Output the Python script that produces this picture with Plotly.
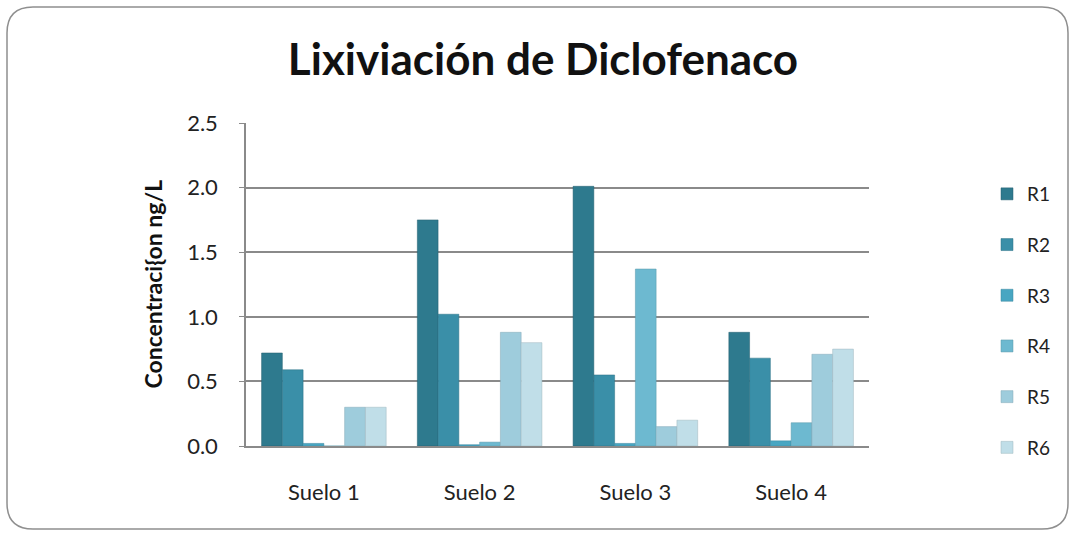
import plotly.graph_objects as go

categories = ["Suelo 1", "Suelo 2", "Suelo 3", "Suelo 4"]
series_names = ["R1", "R2", "R3", "R4", "R5", "R6"]
R1 = [0.72, 1.75, 2.01, 0.88]
R2 = [0.59, 1.02, 0.55, 0.68]
R3 = [0.02, 0.01, 0.02, 0.04]
R4 = [0.00, 0.03, 1.37, 0.18]
R5 = [0.30, 0.88, 0.15, 0.71]
R6 = [0.30, 0.80, 0.20, 0.75]
series_values = [R1, R2, R3, R4, R5, R6]
y_ticks = [0.0, 0.5, 1.0, 1.5, 2.0, 2.5]
y_ticklabels = ["0.0", "0.5", "1.0", "1.5", "2.0", "2.5"]

colors = ["#2E7A8E", "#3A8FA8", "#48A6C2", "#6DB9D0", "#9ECCDC", "#C0DEE8"]
line_colors = ["#245F6F", "#2D7085", "#3A869E", "#5A98AB", "#84A9B6", "#9FB6BE"]

W, H = 1073, 533
L, R, T, B = 246, 869, 123, 446
FONT = "Lato"

fig = go.Figure()
for i, (name, vals) in enumerate(zip(series_names, series_values)):
    fig.add_trace(go.Bar(
        x=categories, y=vals, name=name,
        marker=dict(color=colors[i], line=dict(color=line_colors[i], width=0.5)),
        legendgroup=name,
    ))

def px_x(p):
    return (p - L) / (R - L)

def px_y(p):
    return (B - p) / (B - T)

# rounded frame around the chart
x0, y0, x1, y1, r = 7, 7, 1068, 529, 26
path = (
    f"M {px_x(x0 + r)},{px_y(y0)} L {px_x(x1 - r)},{px_y(y0)} "
    f"Q {px_x(x1)},{px_y(y0)} {px_x(x1)},{px_y(y0 + r)} "
    f"L {px_x(x1)},{px_y(y1 - r)} Q {px_x(x1)},{px_y(y1)} {px_x(x1 - r)},{px_y(y1)} "
    f"L {px_x(x0 + r)},{px_y(y1)} Q {px_x(x0)},{px_y(y1)} {px_x(x0)},{px_y(y1 - r)} "
    f"L {px_x(x0)},{px_y(y0 + r)} Q {px_x(x0)},{px_y(y0)} {px_x(x0 + r)},{px_y(y0)} Z"
)

fig.update_layout(
    width=W, height=H,
    margin=dict(l=L, r=W - R, t=T, b=H - B, autoexpand=False),
    paper_bgcolor="white", plot_bgcolor="white",
    barmode="group", bargap=0.2, bargroupgap=0,
    font=dict(family=FONT, size=22, color="#222"),
    title=dict(text="<b>Lixiviación de Diclofenaco</b>", x=543 / W, xanchor="center",
               y=1 - 60 / H, yanchor="middle", yref="container",
               font=dict(family=FONT, size=44, color="#111")),
    xaxis=dict(showgrid=False, showline=True, linecolor="#8a8a8a", linewidth=1.5,
               ticks="", ticklabelstandoff=26, tickfont=dict(size=22, color="#222")),
    yaxis=dict(range=[0, 2.5], tickvals=y_ticks, ticktext=y_ticklabels,
               showgrid=True, gridcolor="#8a8a8a", gridwidth=1.5,
               showline=True, linecolor="#8a8a8a", linewidth=1.5,
               ticks="outside", ticklen=5, tickcolor="#8a8a8a",
               ticklabelstandoff=17, tickfont=dict(size=22, color="#222"),
               zeroline=False),
    legend=dict(x=px_x(987), y=px_y(175), xanchor="left", yanchor="top",
                traceorder="grouped", tracegroupgap=23,
                font=dict(size=19, color="#222"), itemwidth=30),
    shapes=[dict(type="path", xref="paper", yref="paper", path=path,
                 line=dict(color="#8f8f8f", width=1.5), fillcolor="rgba(0,0,0,0)",
                 layer="below")],
    annotations=[dict(text="<b>Concentraci{on ng/L</b>", textangle=-90,
                      xref="paper", yref="paper", x=px_x(152), y=0.5,
                      xanchor="center", yanchor="middle", showarrow=False,
                      font=dict(family=FONT, size=23, color="#111"))],
)

fig.write_html("out.html", config={"displayModeBar": False},
               post_script="document.body.style.margin='0';")
